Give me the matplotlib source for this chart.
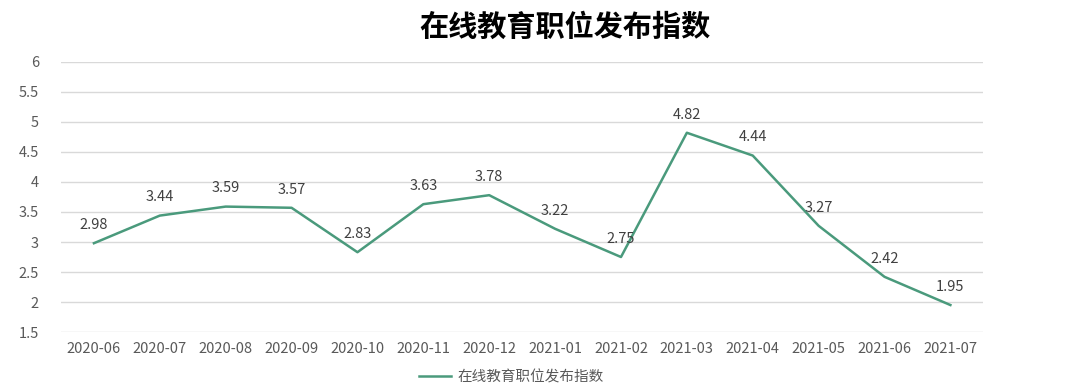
import matplotlib
matplotlib.use("Agg")
import matplotlib.pyplot as plt

plt.rcParams['font.family'] = ['Noto Sans CJK SC', 'DejaVu Sans']

categories = ["2020-06", "2020-07", "2020-08", "2020-09", "2020-10", "2020-11", "2020-12",
              "2021-01", "2021-02", "2021-03", "2021-04", "2021-05", "2021-06", "2021-07"]
values = [2.98, 3.44, 3.59, 3.57, 2.83, 3.63, 3.78, 3.22, 2.75, 4.82, 4.44, 3.27, 2.42, 1.95]
series_name = "在线教育职位发布指数"
title = "在线教育职位发布指数"
yticks = [1.5, 2, 2.5, 3, 3.5, 4, 4.5, 5, 5.5, 6]

color = "#4a9a7c"

fig = plt.figure(figsize=(10.7, 3.87), dpi=100)
ax = fig.add_axes([0.057, 0.142, 0.862, 0.698])
x = list(range(len(categories)))
ax.plot(x, values, color=color, linewidth=1.8, label=series_name)
for xi, v in zip(x, values):
    ax.annotate(f"{v:.2f}", (xi, v), xytext=(0, 8), textcoords="offset points",
                ha="center", va="bottom", fontsize=10.5, color="#404040")

ax.set_xlim(-0.5, len(categories) - 0.5)
ax.set_ylim(1.5, 6)
ax.set_yticks(yticks)
ax.set_yticklabels([f"{t:g}" for t in yticks])
ax.set_xticks(x)
ax.set_xticklabels(categories)
ax.tick_params(axis="both", length=0, labelsize=10.5, colors="#595959")
ax.tick_params(axis="x", pad=7)
ax.tick_params(axis="y", pad=16)
ax.grid(axis="y", color="#d9d9d9", linewidth=1)
ax.set_axisbelow(True)
for s in ax.spines.values():
    s.set_visible(False)

fig.suptitle(title, x=0.528, y=0.97, fontsize=21, fontweight="bold", color="black")
fig.legend(loc="center", bbox_to_anchor=(0.478, 0.026), frameon=False, fontsize=10.5,
           handlelength=2.2, handletextpad=0.4, labelcolor="#595959")
fig.savefig("out.png", dpi=100)
